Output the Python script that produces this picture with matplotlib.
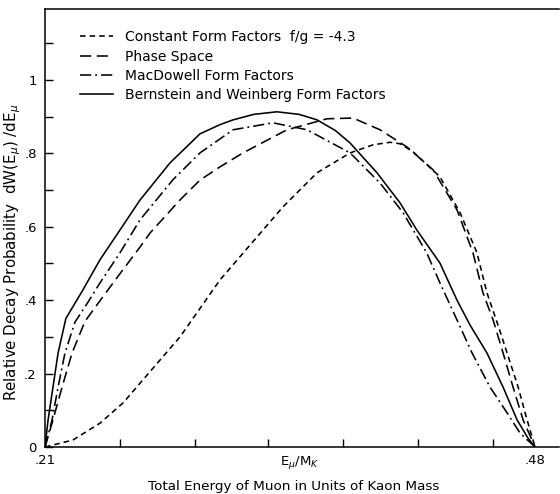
import matplotlib
matplotlib.use("Agg")
import matplotlib.pyplot as plt
from matplotlib.ticker import FixedLocator, NullFormatter

# --- curves (x = E_mu/M_K, y = relative dW/dE) ---
bw_x = [.2100, .2117, .2144, .2172, .2215, .2309, .2403, .2513, .2624, .2789,
        .2954, .3064, .3136, .3250, .3378, .3500, .3599, .3700, .3781, .3929,
        .4056, .4150, .4276, .4370, .4442, .4535, .4624, .4701, .4760, .4800]
bw_y = [0.0, .074, .163, .256, .350, .428, .510, .591, .673, .774,
        .853, .878, .891, .906, .913, .906, .891, .862, .828, .747,
        .665, .590, .501, .400, .332, .256, .163, .074, .025, 0.0]

mac_x = [.2100, .2139, .2172, .2210, .2265, .2331, .2403, .2513, .2624, .2805,
         .2954, .3136, .3356, .3544, .3781, .3946, .4073, .4203, .4276, .4370,
         .4453, .4552, .4646, .4717, .4800]
mac_y = [0.0, .074, .163, .256, .340, .390, .447, .529, .619, .728,
         .801, .864, .883, .864, .801, .719, .638, .529, .447, .346,
         .256, .163, .093, .038, 0.0]

ps_x = [.2100, .2144, .2194, .2249, .2320, .2420, .2513, .2624, .2679, .2844,
        .2954, .3064, .3191, .3433, .3654, .3797, .3946, .4095, .4238, .4370,
        .4458, .4513, .4569, .4624, .4679, .4734, .4800]
ps_y = [0.0, .074, .163, .256, .342, .410, .472, .545, .583, .673,
        .727, .763, .801, .864, .894, .896, .864, .817, .755, .646,
        .529, .420, .346, .256, .163, .074, 0.0]

cff_x = [.2100, .2254, .2403, .2530, .2624, .2844, .3064, .3411, .3599, .3781,
         .3907, .4000, .4056, .4128, .4276, .4387, .4480, .4535, .4596, .4646,
         .4707, .4756, .4800]
cff_y = [0.0, .019, .065, .120, .174, .300, .455, .654, .747, .801,
         .823, .830, .826, .804, .736, .638, .529, .420, .332, .256,
         .163, .074, 0.0]

x_minor = [.2513, .2926, .3329, .3742, .4155, .4568]
x_major = [.21, .3505, .48]
x_major_labels = [".21", r"E$_\mu$/M$_K$", ".48"]
y_major = [0, .2, .4, .6, .8, 1.0]
y_major_labels = ["0", ".2", ".4", ".6", ".8", "1"]
y_minor = [.1, .3, .5, .7, .9, 1.1]

fig = plt.figure(figsize=(5.6, 4.94), dpi=100)
ax = fig.add_axes([45 / 560, 47 / 494, 514 / 560, 438 / 494])

lw = 1.15
ax.plot(cff_x, cff_y, color="black", lw=lw, dashes=(3.5, 2.5),
        label="Constant Form Factors  f/g = -4.3")
ax.plot(ps_x, ps_y, color="black", lw=lw, dashes=(7, 3.5), label="Phase Space")
ax.plot(mac_x, mac_y, color="black", lw=lw, dashes=(7, 2.5, 1.2, 2.5),
        label="MacDowell Form Factors")
ax.plot(bw_x, bw_y, color="black", lw=lw, label="Bernstein and Weinberg Form Factors")

ax.set_xlim(.21, .4932)
ax.set_ylim(0, 1.193)

ax.xaxis.set_major_locator(FixedLocator(x_major))
ax.set_xticklabels(x_major_labels, fontsize=9.5)
ax.xaxis.set_minor_locator(FixedLocator(x_minor))
ax.xaxis.set_minor_formatter(NullFormatter())
ax.tick_params(axis="x", which="major", length=0, pad=5)
ax.tick_params(axis="x", which="minor", direction="in", length=6, width=1)

ax.yaxis.set_major_locator(FixedLocator(y_major))
ax.set_yticklabels(y_major_labels, fontsize=9.5)
ax.yaxis.set_minor_locator(FixedLocator(y_minor))
ax.tick_params(axis="y", which="both", direction="in", length=6, width=1, pad=6)

ax.spines["right"].set_visible(False)
for s in ["left", "bottom", "top"]:
    ax.spines[s].set_linewidth(1.1)

ax.set_xlabel("Total Energy of Muon in Units of Kaon Mass", fontsize=9.7)
ax.xaxis.set_label_coords(0.484, -0.075)
ax.set_ylabel(r"Relative Decay Probability  dW(E$_\mu$) /dE$_\mu$", fontsize=10.8)
ax.yaxis.set_label_coords(-0.043, 0.445)

ax.legend(loc="upper left", bbox_to_anchor=(0.043, 0.98), frameon=False, fontsize=10,
          handlelength=2.4, handletextpad=0.9, labelspacing=0.38)

fig.savefig("out.png", dpi=100)
